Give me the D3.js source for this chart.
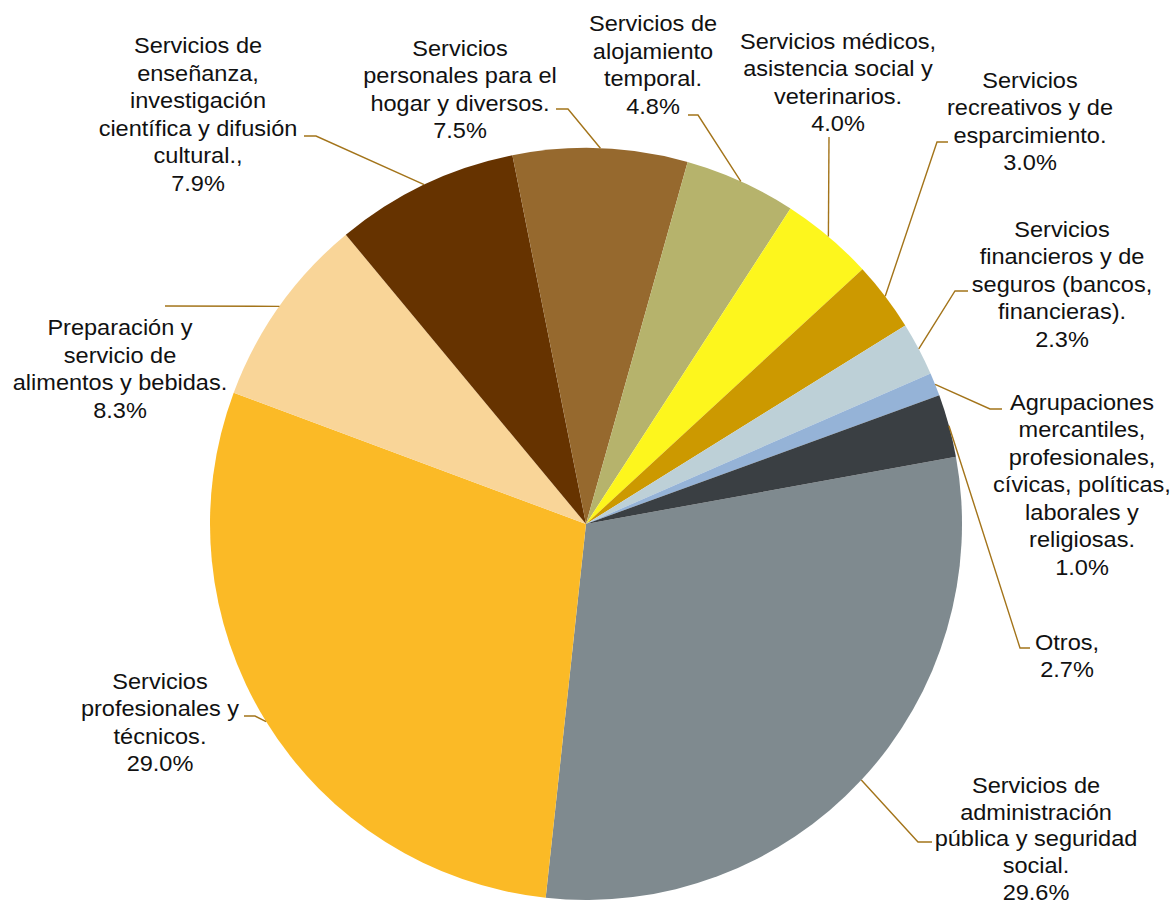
<!DOCTYPE html>
<html>
<head>
<meta charset="utf-8">
<script src="https://cdn.jsdelivr.net/npm/d3@7"></script>
<style>
  html, body { margin: 0; padding: 0; background: #ffffff; }
  svg { display: block; }
  text { font-family: "Liberation Sans", Arial, sans-serif; }
</style>
</head>
<body>
<svg id="chart" width="1175" height="905"></svg>
<script>
// ---- data ----
const categories = [
  "Servicios de\nadministración\npública y seguridad\nsocial.",
  "Servicios\nprofesionales y\ntécnicos.",
  "Preparación y\nservicio de\nalimentos y bebidas.",
  "Servicios de\nenseñanza,\ninvestigación\ncientífica y difusión\ncultural.,",
  "Servicios\npersonales para el\nhogar y diversos.",
  "Servicios de\nalojamiento\ntemporal.",
  "Servicios médicos,\nasistencia social y\nveterinarios.",
  "Servicios\nrecreativos y de\nesparcimiento.",
  "Servicios\nfinancieros y de\nseguros (bancos,\nfinancieras).",
  "Agrupaciones\nmercantiles,\nprofesionales,\ncívicas, políticas,\nlaborales y\nreligiosas.",
  "Otros,"
];
const values = [29.6, 29.0, 8.3, 7.9, 7.5, 4.8, 4.0, 3.0, 2.3, 1.0, 2.7];
const colors = ["#7F8A8F", "#FBBA26", "#F9D598", "#663300", "#96692E", "#B6B36C",
                "#FDF61D", "#CC9900", "#BDD0D7", "#95B3D7", "#3A3F43"];

// ---- layout (label centre x, first baseline y, leader path points after the pie edge) ----
const labelX  = [1036, 160, 120, 198, 460, 653, 838, 1030, 1062, 1082, 1067];
const labelY  = [793, 689, 335, 53, 56, 31, 49, 88, 237, 410, 650];
const labelLH = [26.7, 27.4, 27.6, 27.6, 27.4, 27.6, 27.4, 27.4, 27.5, 27.5, 27.0];
const leaders = [
  [[918, 842], [932, 842]],
  [[255, 716], [244, 716]],
  [[165, 306]],
  [[316, 136], [304, 136]],
  [[568, 109], [556, 109]],
  [[698, 115], [688, 115]],
  [[829, 137]],
  [[937, 142], [948, 142]],
  [[955, 291], [968, 291]],
  [[990, 409], [1002, 409]],
  [[1020, 648], [1030, 648]]
];

const cx = 586, cy = 524, R = 376;
const startDeg = 79.7;

const svg = d3.select("#chart");
const g = svg.append("g").attr("transform", `translate(${cx},${cy})`);

const pie = d3.pie().sort(null).value(d => d)
  .startAngle(startDeg * Math.PI / 180)
  .endAngle(startDeg * Math.PI / 180 + 2 * Math.PI);
const arcs = pie(values);
const arc = d3.arc().innerRadius(0).outerRadius(R);

g.selectAll("path.slice").data(arcs).enter().append("path")
  .attr("class", "slice")
  .attr("d", arc)
  .attr("fill", (d, i) => colors[i]);

// leader lines
const line = d3.line();
arcs.forEach((d, i) => {
  const a = (d.startAngle + d.endAngle) / 2;
  const ex = cx + R * Math.sin(a), ey = cy - R * Math.cos(a);
  const pts = [[ex, ey]].concat(leaders[i]);
  svg.append("path")
    .attr("d", line(pts))
    .attr("fill", "none")
    .attr("stroke", "#A3741A")
    .attr("stroke-width", 1.4);
});

// labels
categories.forEach((c, i) => {
  const lines = c.split("\n").concat([values[i].toFixed(1) + "%"]);
  const tg = svg.append("g")
    .attr("transform", `translate(${labelX[i]},${labelY[i]}) scale(1.07,1)`);
  const t = tg.append("text")
    .attr("text-anchor", "middle")
    .attr("font-size", 22)
    .attr("fill", "#111111");
  lines.forEach((ln, j) => {
    t.append("tspan").attr("x", 0).attr("y", j * labelLH[i]).text(ln);
  });
});
</script>
</body>
</html>
